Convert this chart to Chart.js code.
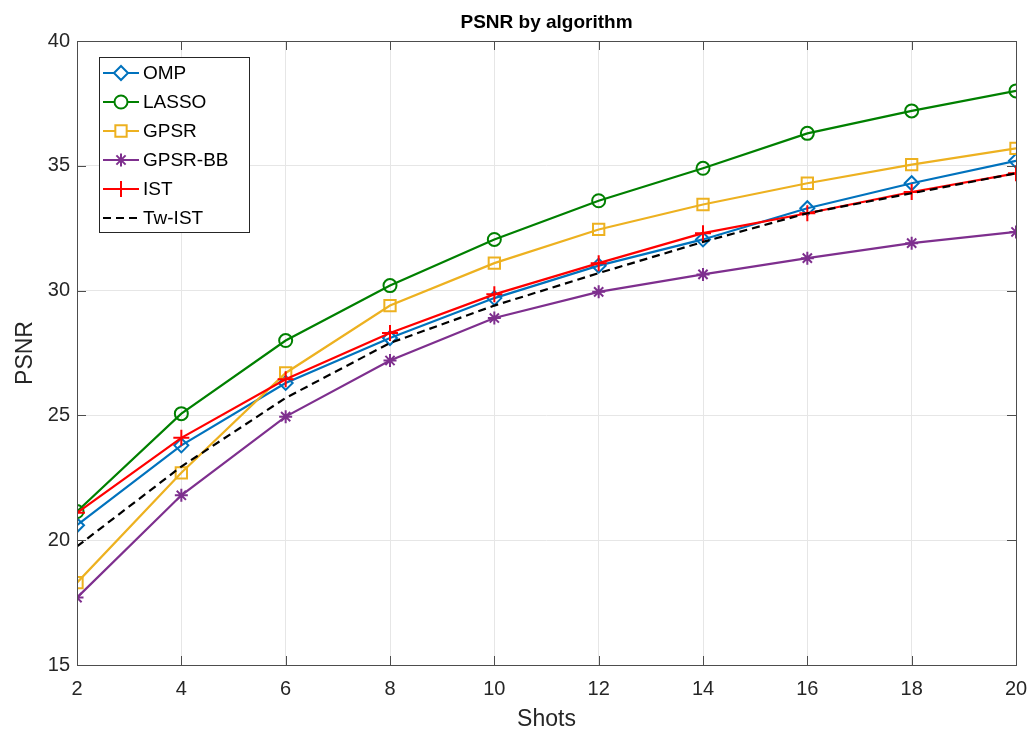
<!DOCTYPE html>
<html>
<head>
<meta charset="utf-8">
<script src="https://cdn.jsdelivr.net/npm/chart.js@4"></script>
<style>
  body { margin: 0; background: #fff; }
  #wrap { width: 1030px; height: 731px; }
</style>
</head>
<body>
<div id="wrap"><canvas id="psnr-chart" width="1030" height="731"></canvas></div>
<script>
// values
const shots = [2, 4, 6, 8, 10, 12, 14, 16, 18, 20];
const omp = [20.6, 23.8, 26.3, 28.1, 29.7, 31.0, 32.05, 33.3, 34.3, 35.2];
const lasso = [21.15, 25.07, 28.0, 30.2, 32.05, 33.6, 34.9, 36.3, 37.2, 38.0];
const gpsr = [18.3, 22.7, 26.7, 29.4, 31.1, 32.45, 33.45, 34.3, 35.05, 35.7];
const gpsrBB = [17.7, 21.8, 24.95, 27.2, 28.9, 29.95, 30.65, 31.3, 31.9, 32.35];
const ist = [21.1, 24.1, 26.45, 28.3, 29.85, 31.1, 32.3, 33.1, 33.95, 34.7];
const twIst = [19.75, 22.95, 25.7, 27.9, 29.4, 30.7, 31.95, 33.1, 33.9, 34.7];

const yTicks = [15, 20, 25, 30, 35, 40];
const xTicks = shots;

const FONT = "'Liberation Sans', Arial, Helvetica, sans-serif";
const AXIS = '#4d4d4d';

function toPoints(values) {
    return values.map((v, i) => ({ x: shots[i], y: v }));
}

// one entry per algorithm, drawn in MATLAB order (last on top)
const series = [
    { label: 'OMP', values: omp, color: '#0072BD', point: 'rectRot', radius: 7 },
    { label: 'LASSO', values: lasso, color: '#008000', point: 'circle', radius: 6.5 },
    { label: 'GPSR', values: gpsr, color: '#EDB120', point: 'rect', radius: 8 },
    { label: 'GPSR-BB', values: gpsrBB, color: '#7E2F8E', point: 'star', radius: 6.5 },
    { label: 'IST', values: ist, color: '#FF0000', point: 'cross', radius: 8 },
    { label: 'Tw-IST', values: twIst, color: '#000000', point: false, radius: 0, dash: [8, 5] }
];

const datasets = series.map((s, i) => ({
    label: s.label,
    data: toPoints(s.values),
    borderColor: s.color,
    backgroundColor: s.color,
    borderWidth: 2.2,
    borderDash: s.dash || [],
    pointStyle: s.point,
    pointRadius: s.radius,
    pointHoverRadius: s.radius,
    pointBackgroundColor: 'rgba(0,0,0,0)',
    pointBorderColor: s.color,
    pointBorderWidth: 2,
    tension: 0,
    order: series.length - i
}));

// title, box with inward ticks, and legend inside the axes
const matlabDecor = {
    id: 'matlabDecor',
    afterDraw(chart) {
        const ctx = chart.ctx;
        const a = chart.chartArea;
        const xs = chart.scales.x, ys = chart.scales.y;
        ctx.save();

        // title
        ctx.fillStyle = '#000';
        ctx.font = 'bold 19px ' + FONT;
        ctx.textAlign = 'center';
        ctx.textBaseline = 'middle';
        ctx.fillText('PSNR by algorithm', (a.left + a.right) / 2, 23);

        // box
        ctx.strokeStyle = AXIS;
        ctx.lineWidth = 1;
        ctx.strokeRect(Math.round(a.left) + 0.5, Math.round(a.top) + 0.5,
            Math.round(a.right - a.left), Math.round(a.bottom - a.top));

        // inward ticks
        ctx.beginPath();
        xTicks.forEach(t => {
            const px = Math.round(xs.getPixelForValue(t)) + 0.5;
            ctx.moveTo(px, a.bottom); ctx.lineTo(px, a.bottom - 9);
            ctx.moveTo(px, a.top); ctx.lineTo(px, a.top + 9);
        });
        yTicks.forEach(t => {
            const py = Math.round(ys.getPixelForValue(t)) + 0.5;
            ctx.moveTo(a.left, py); ctx.lineTo(a.left + 9, py);
            ctx.moveTo(a.right, py); ctx.lineTo(a.right - 9, py);
        });
        ctx.stroke();

        // legend
        const lx = 99, ly = 57, lw = 150, lh = 175;
        ctx.fillStyle = '#fff';
        ctx.fillRect(lx, ly, lw, lh);
        ctx.strokeStyle = '#262626';
        ctx.strokeRect(lx + 0.5, ly + 0.5, lw, lh);
        ctx.font = '19px ' + FONT;
        ctx.textAlign = 'left';
        ctx.textBaseline = 'middle';
        series.forEach((s, i) => {
            const cy = 73 + i * 29;
            ctx.strokeStyle = s.color;
            ctx.lineWidth = 2.2;
            ctx.setLineDash(s.dash || []);
            ctx.beginPath();
            ctx.moveTo(103, cy); ctx.lineTo(139, cy);
            ctx.stroke();
            ctx.setLineDash([]);
            if (s.point) {
                ctx.fillStyle = '#fff';
                ctx.lineWidth = 2;
                Chart.helpers.drawPoint(ctx, {
                    pointStyle: s.point, radius: s.radius, rotation: 0, borderWidth: 2
                }, 121, cy);
            }
            ctx.fillStyle = '#000';
            ctx.fillText(s.label, 143, cy + 1);
        });
        ctx.restore();
    }
};

new Chart(document.querySelector('#psnr-chart').getContext('2d'), {
    type: 'line',
    data: { datasets: datasets },
    options: {
        responsive: false,
        animation: false,
        events: [],
        layout: { padding: { top: 41, right: 14, left: 0, bottom: 0 } },
        plugins: {
            legend: { display: false },
            title: { display: false },
            tooltip: { enabled: false }
        },
        scales: {
            x: {
                type: 'linear',
                min: 2,
                max: 20,
                afterFit: scale => {
                    scale.height = 66;
                    scale.paddingLeft = 0;
                    scale.paddingRight = 0;
                },
                afterBuildTicks: scale => { scale.ticks = xTicks.map(v => ({ value: v })); },
                ticks: { color: '#262626', font: { family: FONT, size: 20 }, padding: 12 },
                grid: { color: '#e6e6e6', drawTicks: false },
                border: { display: false },
                title: {
                    display: true, text: 'Shots', color: '#262626',
                    font: { family: FONT, size: 23, lineHeight: 1 }, padding: { bottom: 0 }
                }
            },
            y: {
                min: 15,
                max: 40,
                afterFit: scale => {
                    scale.width = 77;
                    scale.paddingTop = 0;
                    scale.paddingBottom = 0;
                },
                afterBuildTicks: scale => { scale.ticks = yTicks.map(v => ({ value: v })); },
                ticks: { color: '#262626', font: { family: FONT, size: 20 }, padding: 7 },
                grid: { color: '#e6e6e6', drawTicks: false },
                border: { display: false },
                title: {
                    display: true, text: 'PSNR', color: '#262626',
                    font: { family: FONT, size: 23, lineHeight: 1 }, padding: { top: 14 }
                }
            }
        }
    },
    plugins: [matlabDecor]
});
</script>
</body>
</html>
